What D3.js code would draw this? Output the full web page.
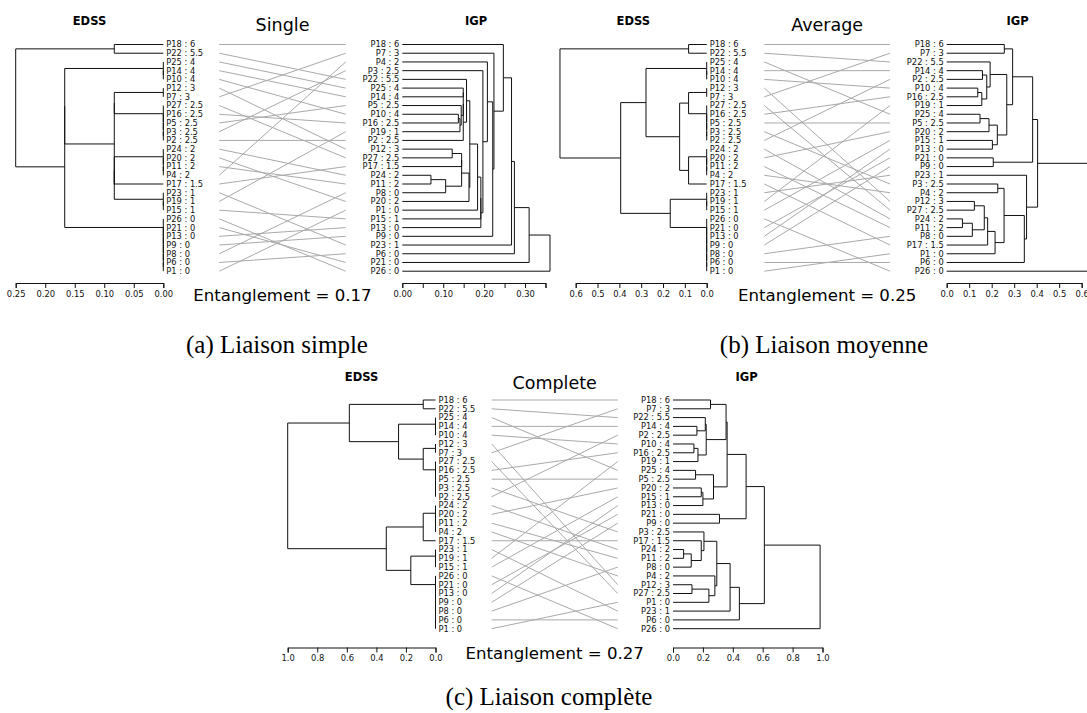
<!DOCTYPE html>
<html><head><meta charset="utf-8">
<script src="https://cdn.jsdelivr.net/npm/d3@7"></script>
<style>body{margin:0;background:#fff}svg{display:block}</style>
</head><body>
<svg id="chart" width="1087" height="713"></svg>
<script>
// ---------------- DATA ----------------
const patientIds = ["P1","P2","P3","P4","P5","P6","P7","P8","P9","P10","P11","P12","P13","P14","P15","P16","P17","P18","P19","P20","P21","P22","P23","P24","P25","P26","P27"];
const edssScores = [0,2.5,2.5,2,2.5,0,3,0,0,4,2,3,0,4,1,2.5,1.5,6,1,2,0,5.5,1,2,4,0,2.5];

// EDSS tied groups (merge height 0); node = [height, left, right]
const edss4  = [0, "P25", [0, "P14", "P10"]];
const edss3  = [0, "P12", "P7"];
const edss25 = [0, "P27", [0, "P16", [0, "P5", [0, "P3", "P2"]]]];
const edss2  = [0, "P24", [0, "P20", [0, "P11", "P4"]]];
const edss1  = [0, "P23", [0, "P19", "P15"]];
const edss0  = [0, "P26", [0, "P21", [0, "P13", [0, "P9", [0, "P8", [0, "P6", "P1"]]]]]];

const edssSingle = [0.25, [0.083, "P18", "P22"],
  [0.167, [0.167, edss4, [0.083, [0.083, edss3, edss25], [0.083, [0.083, edss2, "P17"], edss1]]], edss0]];
const edssAverage = [0.672, [0.083, "P18", "P22"],
  [0.394, [0.278, edss4, [0.124, [0.083, edss3, edss25], [0.083, edss2, "P17"]]], [0.167, edss1, edss0]]];
const edssComplete = [1.0, [0.583, [0.083, "P18", "P22"], [0.25, edss4, [0.083, edss3, edss25]]],
  [0.333, [0.083, edss2, "P17"], [0.167, edss1, edss0]]];

// IGP trees
const igpSingle =
  [0.361, [0.310, [0.274, [0.267, [0.247, "P18", [0.224, "P7", [0.221, [0.208, "P4", [0.197, "P3",
    [0.192, [0.192, [0.184, [0.165, [0.157, "P22", [0.149, [0.149, [0.149, "P25", "P14"],
      [0.144, "P5", [0.141, [0.137, "P10", "P16"], "P19"]]], "P2"]],
      [0.163, [0.145, [0.145, [0.122, "P12", "P27"], "P17"], [0.106, [0.070, "P24", "P11"], "P8"]], "P20"]],
    "P1"], "P15"], "P13"]]], "P9"]]], "P23"], "P6"], "P21"], "P26"];

const igpAverage =
  [0.63, [0.404,
    [0.382, [0.293, [0.256, "P18", "P7"],
        [0.267, [0.193, "P22", [0.178, [0.159, "P14", "P2"], [0.156, [0.138, "P10", "P16"], "P19"]]],
                [0.225, [0.188, [0.148, "P25", "P5"], "P20"], [0.203, "P15", "P13"]]]],
      [0.207, "P21", "P9"]],
    [0.355, "P23", [0.345, [0.255, [0.227, "P3", "P4"],
        [0.215, [0.182, [0.167, [0.123, "P12", "P27"], [0.114, [0.070, "P24", "P11"], "P8"]], "P17"], "P1"]], "P6"]]],
   "P26"];

const igpComplete =
  [0.984, [0.611,
    [0.489, [0.362, [0.355, [0.251, "P18", "P7"],
          [0.222, [0.216, "P22", [0.160, "P14", "P2"]], [0.167, [0.140, "P10", "P16"], "P19"]]],
        [0.271, [0.151, "P25", "P5"], [0.200, [0.189, "P20", "P15"], "P13"]]],
      [0.311, "P21", "P9"]],
    [0.444, [0.382, [0.293, [0.207, "P3", [0.189, "P17", [0.122, [0.071, "P24", "P11"], "P8"]]],
          [0.280, "P4", [0.240, [0.127, "P12", "P27"], "P1"]]], "P23"], "P6"]],
   "P26"];

const entanglements = [0.17, 0.25, 0.27];
const methodTitles = ["Single", "Average", "Complete"];
const captions = ["(a) Liaison simple", "(b) Liaison moyenne", "(c) Liaison complète"];

const ticksA_left  = [0, 0.05, 0.10, 0.15, 0.20, 0.25];
const labelsA_left = ["0.00","0.05","0.10","0.15","0.20","0.25"];
const ticksA_right  = [0, 0.05, 0.10, 0.15, 0.20, 0.25, 0.30, 0.35];
const labelsA_right = ["0.00","","0.10","","0.20","","0.30",""];
const ticksB  = [0, 0.1, 0.2, 0.3, 0.4, 0.5, 0.6];
const labelsB = ["0.0","0.1","0.2","0.3","0.4","0.5","0.6"];
const ticksC  = [0, 0.2, 0.4, 0.6, 0.8, 1.0];
const labelsC = ["0.0","0.2","0.4","0.6","0.8","1.0"];

// ---------------- DRAWING ----------------
const svg = d3.select("#chart");
const FONT = "'DejaVu Sans', sans-serif";
const edssOf = new Map(patientIds.map((p, i) => [p, edssScores[i]]));
const labelOf = p => `${p} : ${edssOf.get(p)}`;

function layoutTree(tree, y0, y1) {
  const root = d3.hierarchy(tree, d => Array.isArray(d) ? d.slice(1) : null);
  const order = root.leaves().map(d => d.data);
  const y = d3.scalePoint().domain(order).range([y0, y1]);
  root.eachAfter(n => {
    n.h = n.children ? n.data[0] : 0;
    n.py = n.children ? (n.children[0].py + n.children[n.children.length - 1].py) / 2 : y(n.data);
  });
  return {root, order, y};
}

function drawTree(g, lay, x, side) {
  const p = d3.path();
  lay.root.each(n => {
    if (!n.children) return;
    const xn = x(n.h);
    const c0 = n.children[0], c1 = n.children[n.children.length - 1];
    p.moveTo(xn, c0.py); p.lineTo(xn, c1.py);
    n.children.forEach(c => { p.moveTo(xn, c.py); p.lineTo(x(c.h), c.py); });
  });
  g.append("path").attr("d", p.toString()).attr("fill", "none")
    .attr("stroke", "#111").attr("stroke-width", 1);
  const x0 = x(0);
  g.append("g").selectAll("text").data(lay.order).join("text")
    .attr("x", side === "left" ? x0 + 3 : x0 - 3)
    .attr("y", d => lay.y(d)).attr("dy", "0.35em")
    .attr("text-anchor", side === "left" ? "start" : "end")
    .attr("font-family", FONT).attr("font-size", 8.3).attr("fill", "#111")
    .text(labelOf);
}

function drawAxis(g, x, ticks, labels, ay) {
  const lo = d3.min(ticks), hi = d3.max(ticks);
  const ax = x.copy().domain([lo, hi]).range([x(lo), x(hi)]);
  const a = g.append("g").attr("transform", `translate(0,${ay})`)
    .call(d3.axisBottom(ax).tickValues(ticks).tickFormat((d, i) => labels[i]).tickSizeOuter(0).tickSize(5).tickPadding(3));
  a.select(".domain").attr("stroke", "#111");
  a.selectAll(".tick line").attr("stroke", "#111");
  a.selectAll("text").attr("font-family", FONT).attr("font-size", 8.4).attr("fill", "#111");
}

const panels = [
  {left: edssSingle, right: igpSingle, y0: 44.5, y1: 271.2,
   xl: d3.scaleLinear([0, 0.25], [163.3, 15.7]), xr: d3.scaleLinear([0, 0.35], [402.3, 545.5]),
   lt: [ticksA_left, labelsA_left], rt: [ticksA_right, labelsA_right],
   cx: [219.3, 345.7], axisY: 283, titleY: 25, methodY: 31, entY: 301,
   capX: 277, capY: 353},
  {left: edssAverage, right: igpAverage, y0: 44.5, y1: 271.2,
   xl: d3.scaleLinear([0, 0.6], [706.7, 575.7]), xr: d3.scaleLinear([0, 0.6], [946.7, 1081.7]),
   lt: [ticksB, labelsB], rt: [ticksB, labelsB],
   cx: [764.3, 890], axisY: 283, titleY: 25, methodY: 31, entY: 301,
   capX: 824, capY: 353},
  {left: edssComplete, right: igpComplete, y0: 400, y1: 628.7,
   xl: d3.scaleLinear([0, 1], [435.5, 287.7]), xr: d3.scaleLinear([0, 1], [673, 822.5]),
   lt: [ticksC, labelsC], rt: [ticksC, labelsC],
   cx: [491.7, 617.7], axisY: 647.5, titleY: 380.5, methodY: 389, entY: 659,
   capX: 549, capY: 705}
];

panels.forEach((P, k) => {
  const g = svg.append("g");
  const L = layoutTree(P.left, P.y0, P.y1);
  const R = layoutTree(P.right, P.y0, P.y1);
  // connecting lines
  g.append("g").selectAll("line").data(L.order).join("line")
    .attr("x1", P.cx[0]).attr("x2", P.cx[1])
    .attr("y1", d => L.y(d)).attr("y2", d => R.y(d))
    .attr("stroke", "#a9a9a9").attr("stroke-width", 1);
  drawTree(g, L, P.xl, "left");
  drawTree(g, R, P.xr, "right");
  drawAxis(g, P.xl, P.lt[0], P.lt[1], P.axisY);
  drawAxis(g, P.xr, P.rt[0], P.rt[1], P.axisY);
  const rootR = P.xr(R.root.h);
  g.append("text").attr("x", (P.xl(L.root.h) + P.xl(0)) / 2).attr("y", P.titleY)
    .attr("text-anchor", "middle").attr("font-family", FONT).attr("font-weight", "bold")
    .attr("font-size", 11.5).text("EDSS");
  g.append("text").attr("x", (P.xr(0) + rootR) / 2).attr("y", P.titleY)
    .attr("text-anchor", "middle").attr("font-family", FONT).attr("font-weight", "bold")
    .attr("font-size", 11.5).text("IGP");
  const cmid = (P.cx[0] + P.cx[1]) / 2;
  g.append("text").attr("x", cmid).attr("y", P.methodY).attr("text-anchor", "middle")
    .attr("font-family", FONT).attr("font-size", 17.5).text(methodTitles[k]);
  g.append("text").attr("x", cmid).attr("y", P.entY).attr("text-anchor", "middle")
    .attr("font-family", FONT).attr("font-size", 16.6).text(`Entanglement = ${entanglements[k].toFixed(2)}`);
  svg.append("text").attr("x", P.capX).attr("y", P.capY).attr("text-anchor", "middle")
    .attr("font-family", "'Liberation Serif', serif").attr("font-size", 25).text(captions[k]);
});
</script>
</body></html>
